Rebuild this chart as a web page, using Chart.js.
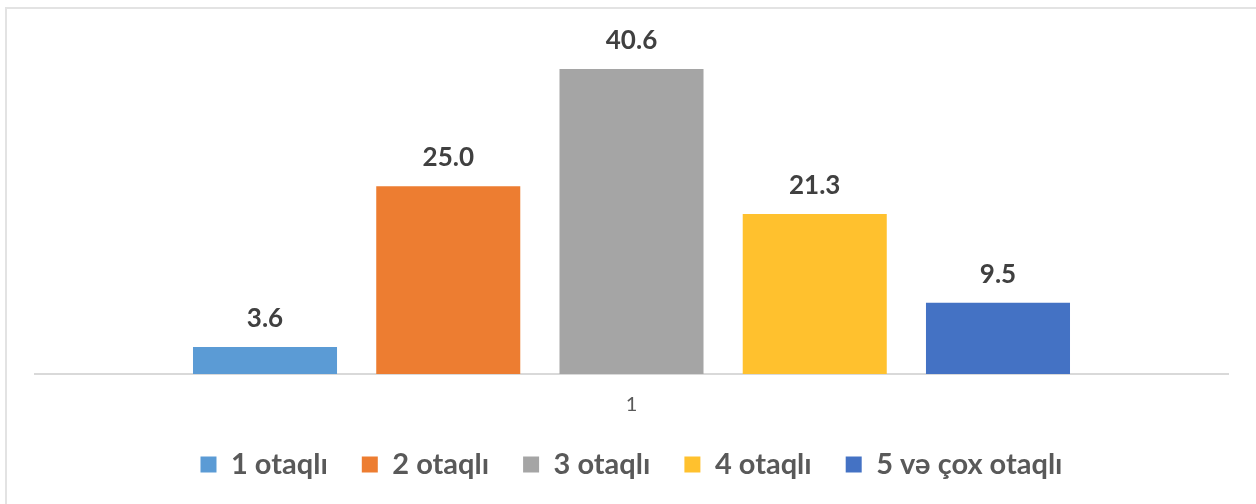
<!DOCTYPE html>
<html>
<head>
<meta charset="utf-8">
<script src="https://cdn.jsdelivr.net/npm/chart.js@4"></script>
<style>
  html, body { margin: 0; padding: 0; background: #fff; }
  #wrap { width: 1256px; height: 504px; position: relative; }
</style>
</head>
<body>
<div id="wrap"><canvas id="c" width="1256" height="504"></canvas></div>
<script>
const categories = ['1'];
const seriesNames = ['1 otaqlı', '2 otaqlı', '3 otaqlı', '4 otaqlı', '5 və çox otaqlı'];
const seriesValues = [3.6, 25.0, 40.6, 21.3, 9.5];
const seriesColors = ['#5B9BD5', '#ED7D31', '#A5A5A5', '#FFC12E', '#4472C4'];

const FONT = 'Lato, "Open Sans", sans-serif';

const frame = {
  id: 'frame',
  beforeDraw(chart) {
    const ctx = chart.ctx;
    ctx.save();
    ctx.strokeStyle = '#e3e3e3';
    ctx.lineWidth = 2;
    ctx.strokeRect(6, 8, 1270, 520);
    ctx.restore();
  }
};

const valueLabels = {
  id: 'valueLabels',
  afterDatasetsDraw(chart) {
    const ctx = chart.ctx;
    ctx.save();
    ctx.font = 'bold 26px ' + FONT;
    ctx.fillStyle = '#404040';
    ctx.textAlign = 'center';
    ctx.textBaseline = 'alphabetic';
    chart.data.datasets.forEach((ds, i) => {
      const meta = chart.getDatasetMeta(i);
      meta.data.forEach((bar, j) => {
        ctx.fillText(ds.data[j].toFixed(1), bar.x, bar.y - 20);
      });
    });
    ctx.restore();
  }
};

new Chart(document.getElementById('c'), {
  type: 'bar',
  data: {
    labels: categories,
    datasets: seriesNames.map((name, i) => ({
      label: name,
      data: [seriesValues[i]],
      backgroundColor: seriesColors[i],
      categoryPercentage: 0.768,
      barPercentage: 0.786
    }))
  },
  options: {
    responsive: false,
    animation: false,
    layout: { padding: { left: 35, right: 28, top: 36, bottom: 15 } },
    plugins: {
      legend: {
        position: 'bottom',
        labels: {
          boxWidth: 16,
          boxHeight: 16,
          padding: 34,
          color: '#595959',
          font: { family: FONT, size: 29, weight: 'bold' }
        }
      },
      tooltip: { enabled: false }
    },
    scales: {
      x: {
        grid: { display: false },
        border: { color: '#d9d9d9', width: 2 },
        ticks: { color: '#595959', font: { family: FONT, size: 20 }, padding: 11 },
        // pull the axis line down towards the legend, labels keep their offset
        afterFit: (scale) => { scale.height -= 12; }
      },
      y: {
        display: false,
        min: 0,
        max: 45
      }
    }
  },
  plugins: [frame, valueLabels]
});
</script>
</body>
</html>
